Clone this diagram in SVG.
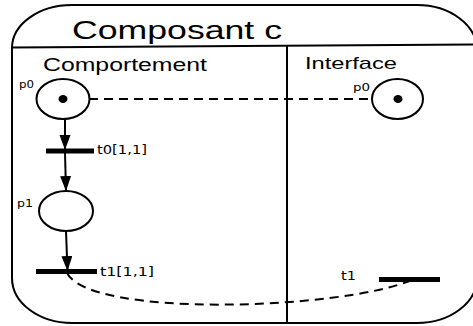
<svg xmlns="http://www.w3.org/2000/svg" width="473" height="326" viewBox="0 0 473 326">
<style>
.frame{fill:none;stroke:#000;stroke-width:2}
.place{fill:#fff;stroke:#000;stroke-width:2}
.token{fill:#000}
.bar{fill:#000}
.arc{fill:none;stroke:#000;stroke-width:2}
.dash{fill:none;stroke:#000;stroke-width:2;stroke-dasharray:9 6}
.big{font-family:"Liberation Sans",Arial,sans-serif;fill:#000}
.small{font-family:"DejaVu Sans",sans-serif;fill:#000}
</style>
<defs>
<marker id="arrow" markerUnits="userSpaceOnUse" markerWidth="16" markerHeight="12" refX="15" refY="5.5" orient="auto">
<path d="M0,0 L15,5.5 L0,11 Z" fill="#000"/>
</marker>
</defs>
<g id="component">
<path class="frame" d="M72,5 H417 A60 45 0 0 1 477 50 V278 A60 45 0 0 1 417 323 H72 A60 45 0 0 1 12 278 V48 A60 43 0 0 1 72 5 Z"/>
<line class="frame" x1="12" y1="47.5" x2="477" y2="44.5"/>
<line class="frame" x1="287" y1="46" x2="287" y2="323"/>
<text class="big" x="72" y="39" font-size="25" textLength="210" lengthAdjust="spacingAndGlyphs">Composant c</text>
<text class="big" x="43" y="71" font-size="18" textLength="164" lengthAdjust="spacingAndGlyphs">Comportement</text>
<text class="big" x="305" y="69" font-size="17" textLength="92" lengthAdjust="spacingAndGlyphs">Interface</text>
</g>
<g id="connectors">
<line class="arc" x1="65" y1="119" x2="65" y2="150" marker-end="url(#arrow)"/>
<line class="arc" x1="65" y1="153" x2="66" y2="191" marker-end="url(#arrow)"/>
<line class="arc" x1="66" y1="231" x2="67.5" y2="271" marker-end="url(#arrow)"/>
<line class="dash" x1="89" y1="99" x2="372" y2="99"/>
<path class="dash" d="M67,273 C90,318 340,310 412,280"/>
</g>
<g id="p0">
<ellipse class="place" cx="63" cy="99" rx="26.5" ry="20"/>
<ellipse class="token" cx="63" cy="99" rx="4.5" ry="4"/>
<text class="small" x="19" y="88" font-size="10.5" textLength="15" lengthAdjust="spacingAndGlyphs">p0</text>
</g>
<g id="t0">
<rect class="bar" x="46" y="148.5" width="48" height="5"/>
<text class="small" x="97" y="154" font-size="12" textLength="50" lengthAdjust="spacingAndGlyphs">t0[1,1]</text>
</g>
<g id="p1">
<ellipse class="place" cx="66" cy="211" rx="27" ry="20"/>
<text class="small" x="17" y="207" font-size="10.5" textLength="16" lengthAdjust="spacingAndGlyphs">p1</text>
</g>
<g id="t1">
<rect class="bar" x="36" y="269" width="61" height="5"/>
<text class="small" x="100" y="276" font-size="12" textLength="54" lengthAdjust="spacingAndGlyphs">t1[1,1]</text>
</g>
<g id="interface-p0">
<ellipse class="place" cx="397.5" cy="99" rx="25.5" ry="20"/>
<ellipse class="token" cx="398" cy="99" rx="4.5" ry="4"/>
<text class="small" x="353" y="91" font-size="10" textLength="17" lengthAdjust="spacingAndGlyphs">p0</text>
</g>
<g id="interface-t1">
<rect class="bar" x="379" y="277" width="61" height="5"/>
<text class="small" x="341" y="280" font-size="11.5" textLength="15" lengthAdjust="spacingAndGlyphs">t1</text>
</g>
</svg>
